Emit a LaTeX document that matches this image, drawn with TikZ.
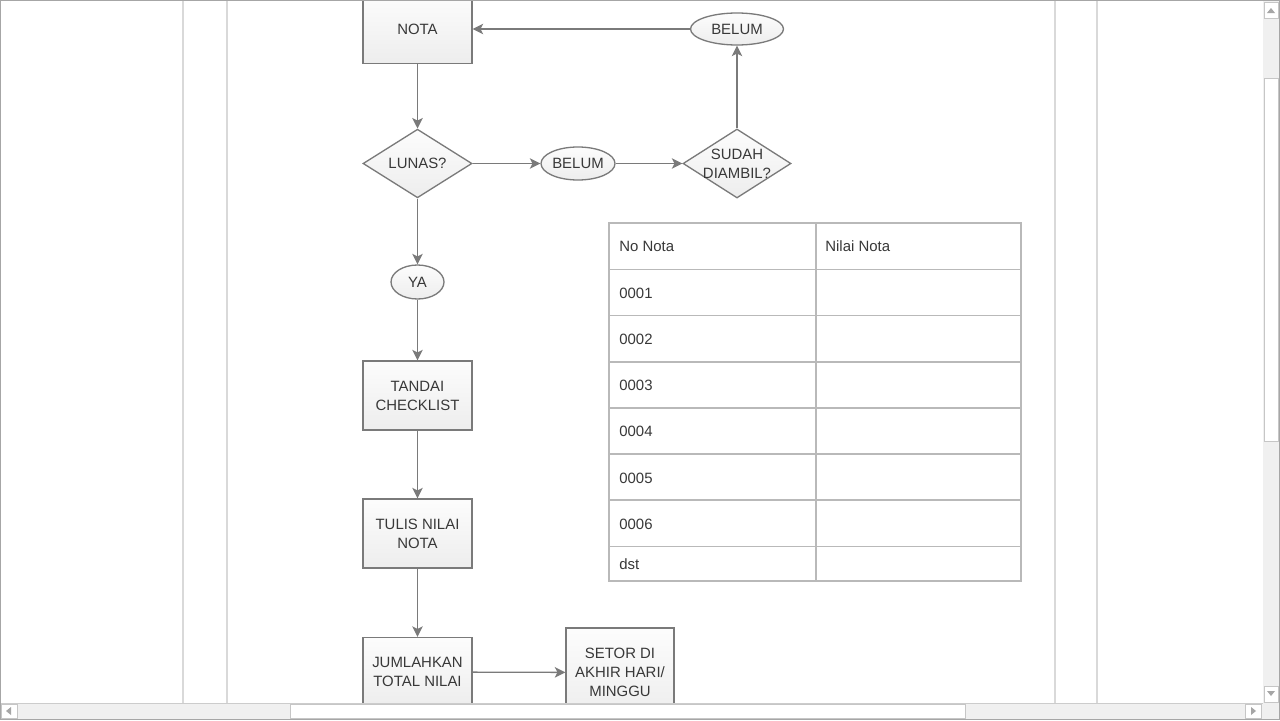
\documentclass[tikz,border=0pt]{standalone}
\usepackage{fontspec}
\setmainfont{Liberation Sans}
\usetikzlibrary{shapes.geometric,arrows.meta}

\begin{document}
\begin{tikzpicture}[x=0.02cm,y=-0.02cm,
    font=\fontsize{8.5}{10.8}\selectfont,
    proc/.style={draw=linecol,line width=0.75pt,top color=gray!2,bottom color=gray!14,
      text=textcol,align=center,inner sep=0pt,minimum width=2.18cm,minimum height=1.38cm},
    decision/.style={diamond,draw=linecol,line width=0.75pt,top color=gray!2,bottom color=gray!14,
      text=textcol,align=center,inner sep=0pt,minimum width=2.18cm,minimum height=1.3cm},
    answer/.style={ellipse,draw=linecol,line width=0.75pt,top color=gray!2,bottom color=gray!14,
      text=textcol,inner sep=0pt,minimum width=1.48cm,minimum height=0.66cm},
    flow/.style={draw=linecol,line width=0.75pt,-{Stealth[length=6pt,width=6pt,inset=1.5pt]}},
    tab/.style={draw=gray!55,line width=1pt},
    cell/.style={anchor=west,inner sep=0pt,text=textcol},
    pageline/.style={draw=gray!30,line width=1.1pt},
    sbtn/.style={draw=gray!45,fill=white,line width=0.5pt}]

    \colorlet{linecol}{black!52}
    \colorlet{textcol}{black!78}

    \useasboundingbox (0,0) rectangle (1280,720);
    \fill[white] (0,0) rectangle (1280,720);

    \foreach \x in {183,227,1055,1097}
      \draw[pageline] (\x,0) -- (\x,703);

    \node[proc] (nota) at (417.5,29) {NOTA};
    \node[decision] (lunas) at (417.5,163.5) {LUNAS?};
    \node[answer] (belum1) at (578,163.5) {BELUM};
    \node[decision,minimum width=2.16cm,minimum height=1.38cm,
      label={[text=textcol,align=center]center:SUDAH\\DIAMBIL?}] (sudah) at (737,163.5) {};
    \node[answer,minimum width=1.86cm,minimum height=0.64cm] (belum2) at (737,29) {BELUM};
    \node[answer,minimum width=1.06cm,minimum height=0.68cm] (ya) at (417.5,282) {YA};
    \node[proc] (tandai) at (417.5,395.5) {TANDAI\\CHECKLIST};
    \node[proc] (tulis) at (417.5,533.5) {TULIS NILAI\\NOTA};
    \node[proc] (jumlah) at (417.5,672) {JUMLAHKAN\\TOTAL NILAI};
    \node[proc,minimum width=2.16cm,minimum height=1.78cm] (setor) at (620,672.5) {SETOR DI\\AKHIR HARI/\\MINGGU};

    \draw[flow] (nota) -- (lunas);
    \draw[flow] (lunas) -- (belum1);
    \draw[flow] (belum1) -- (sudah);
    \draw[flow] (sudah) -- (belum2);
    \draw[flow] (belum2) -- (nota);
    \draw[flow] (lunas) -- (ya);
    \draw[flow] (ya) -- (tandai);
    \draw[flow] (tandai) -- (tulis);
    \draw[flow] (tulis) -- (jumlah);
    \draw[flow] (jumlah) -- (setor);

    \draw[tab] (609,223) rectangle (1021,581);
    \draw[tab] (816,223) -- (816,581);
    \foreach \y in {269.5,315.5,362,408,454,500,546.5}
      \draw[tab] (609,\y) -- (1021,\y);
    \node[cell] (head1) at (619,246) {No Nota};
    \node[cell] (head2) at (825,246) {Nilai Nota};
    \foreach \y/\t in {293/0001,339/0002,385/0003,431/0004,478/0005,524/0006,564/dst}
      \node[cell] (row\t) at (619,\y) {\t};

    \fill[gray!12] (1263,0) rectangle (1280,703);
    \draw[sbtn] (1264,2) rectangle (1278,18);
    \fill[gray!70] (1267,13) -- (1275,13) -- (1271,8) -- cycle;
    \draw[sbtn] (1264,78) rectangle (1278,441);
    \draw[sbtn] (1264,686) rectangle (1278,702);
    \fill[gray!70] (1267,691) -- (1275,691) -- (1271,696) -- cycle;

    \fill[gray!12] (0,703) rectangle (1280,720);
    \draw[gray!40,line width=0.5pt] (0,703.5) -- (1263,703.5);
    \draw[sbtn] (1,704) rectangle (17,718);
    \fill[gray!70] (11,707) -- (11,715) -- (6,711) -- cycle;
    \draw[sbtn] (290,704) rectangle (965,718);
    \draw[sbtn] (1245,704) rectangle (1261,718);
    \fill[gray!70] (1251,707) -- (1251,715) -- (1256,711) -- cycle;

    \draw[gray!70,line width=1pt] (0.5,0.5) rectangle (1279.5,719.5);

\end{tikzpicture}
\end{document}
